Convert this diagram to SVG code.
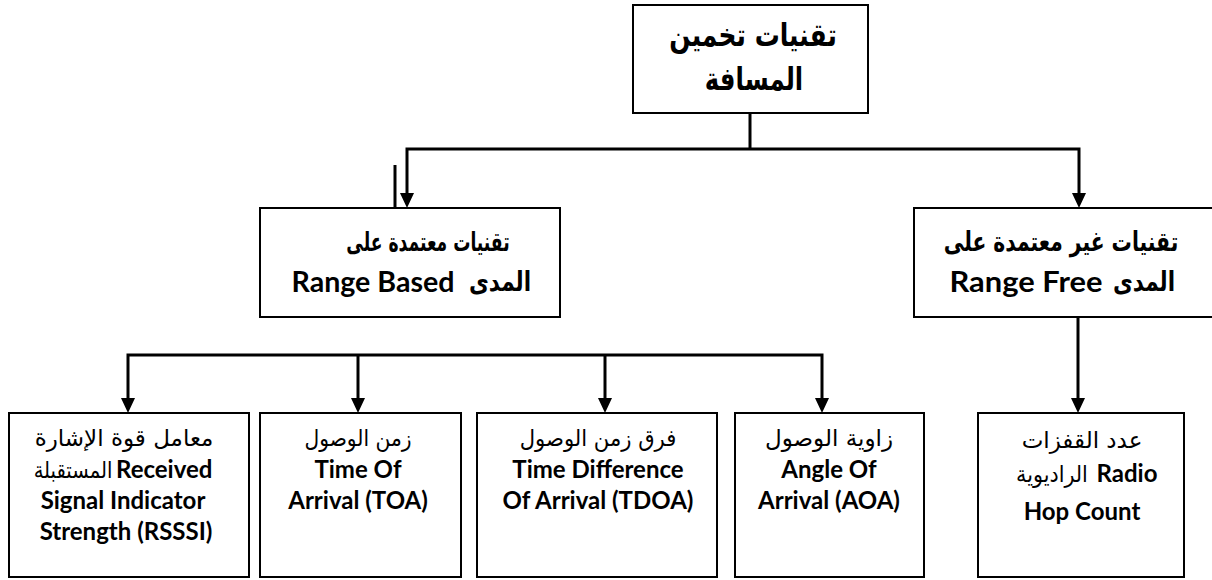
<svg xmlns="http://www.w3.org/2000/svg" width="1212" height="580" viewBox="0 0 1212 580">
<style>
.box{fill:#fff;stroke:#000;stroke-width:2}
.con{fill:none;stroke:#000;stroke-width:3}
.ar{font-family:"DejaVu Sans",sans-serif;font-weight:bold;fill:#000;text-anchor:middle}
.en{font-family:Lato,"Liberation Sans",sans-serif;font-weight:bold;fill:#000;text-anchor:middle;font-size:24px}
.men{font-size:28px}
.st{text-anchor:start}
.sm{font-weight:normal}
</style>
<defs>
<marker id="ah" markerUnits="userSpaceOnUse" markerWidth="15" markerHeight="15" refX="0" refY="7" orient="auto-start-reverse" viewBox="0 0 15 14">
<path d="M0,0 L15,7 L0,14 z" fill="#000"/>
</marker>
</defs>
<g id="connectors">
<path class="con" d="M750,113 V149"/>
<path class="con" d="M407,193 V149 H1079 V193" marker-start="url(#ah)" marker-end="url(#ah)"/>
<path class="con" d="M395,165 V208"/>
<path class="con" d="M128,398 V355 H822 V398" marker-start="url(#ah)" marker-end="url(#ah)"/>
<path class="con" d="M358,355 V398" marker-end="url(#ah)"/>
<path class="con" d="M605,355 V398" marker-end="url(#ah)"/>
<path class="con" d="M1078,317 V398" marker-end="url(#ah)"/>
</g>
<g id="root">
<rect class="box" x="633" y="5" width="235" height="108"/>
<text class="ar" font-size="32" transform="translate(753,46) scale(0.78,1)">تقنيات تخمين</text>
<text class="ar" font-size="32" transform="translate(754,90) scale(0.76,1)">المسافة</text>
</g>
<g id="range-based">
<rect class="box" x="260" y="208" width="300" height="109"/>
<text class="ar" font-size="26" transform="translate(428,251) scale(0.66,1)">تقنيات معتمدة على</text>
<text class="en men" x="373" y="292" textLength="163" lengthAdjust="spacingAndGlyphs">Range Based</text>
<text class="ar" font-size="27" transform="translate(500,291) scale(0.8,1)">المدى</text>
</g>
<g id="range-free">
<path class="box" d="M1212,208 H914 V317 H1212"/>
<text class="ar" font-size="27" transform="translate(1061,251) scale(0.75,1)">تقنيات غير معتمدة على</text>
<text class="en men" x="1026" y="292" textLength="153" lengthAdjust="spacingAndGlyphs">Range Free</text>
<text class="ar" font-size="27" transform="translate(1144,291) scale(0.8,1)">المدى</text>
</g>
<g id="rssi">
<rect class="box" x="9" y="413" width="240" height="164"/>
<text class="ar sm" font-size="23" transform="translate(124,446)">معامل قوة الإشارة</text>
<text class="ar sm" font-size="23" transform="translate(73,478) scale(0.85,1)">المستقبلة</text>
<text class="en st" x="116" y="478">Received</text>
<text class="en" x="123" y="509">Signal Indicator</text>
<text class="en" x="126" y="540">Strength (RSSSI)</text>
</g>
<g id="toa">
<rect class="box" x="260" y="413" width="201" height="164"/>
<text class="ar sm" font-size="23" transform="translate(358,446) scale(0.88,1)">زمن الوصول</text>
<text class="en" x="358" y="478">Time Of</text>
<text class="en" x="358" y="509">Arrival (TOA)</text>
</g>
<g id="tdoa">
<rect class="box" x="477" y="413" width="240" height="164"/>
<text class="ar sm" font-size="23" transform="translate(598,446) scale(0.92,1)">فرق زمن الوصول</text>
<text class="en" x="598" y="478">Time Difference</text>
<text class="en" x="598" y="509">Of Arrival (TDOA)</text>
</g>
<g id="aoa">
<rect class="box" x="735" y="413" width="189" height="164"/>
<text class="ar sm" font-size="23" transform="translate(829,446)">زاوية الوصول</text>
<text class="en" x="829" y="478">Angle Of</text>
<text class="en" x="829" y="509">Arrival (AOA)</text>
</g>
<g id="hop">
<rect class="box" x="978" y="413" width="206" height="164"/>
<text class="ar sm" font-size="23" transform="translate(1082,448)">عدد القفزات</text>
<text class="ar sm" font-size="23" transform="translate(1052,482) scale(0.9,1)">الراديوية</text>
<text class="en" x="1127" y="482">Radio</text>
<text class="en" x="1082" y="520">Hop Count</text>
</g>
</svg>
